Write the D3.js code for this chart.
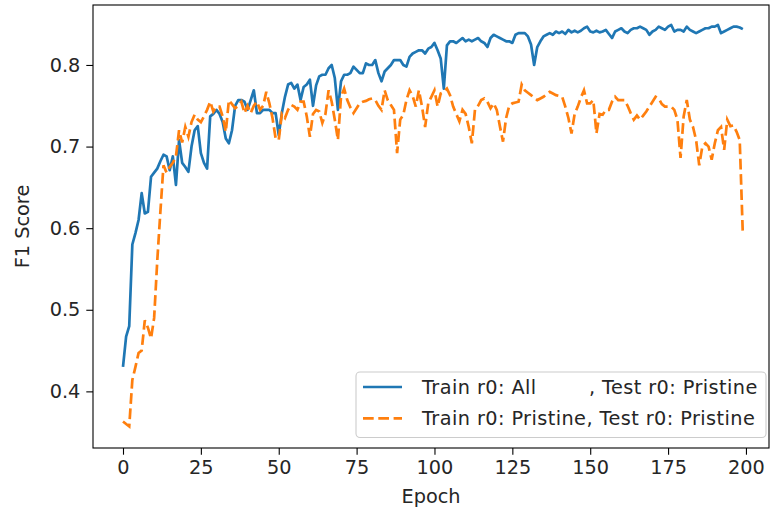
<!DOCTYPE html>
<html>
<head>
<meta charset="utf-8">
<script src="https://cdn.jsdelivr.net/npm/d3@7"></script>
<style>
  body { margin: 0; background: #fff; }
  svg { display: block; font-family: "DejaVu Sans", sans-serif; }
  .legend-label { white-space: pre; letter-spacing: 0.42px; }
</style>
</head>
<body>
<svg id="chart" width="772" height="515"></svg>
<script>
// F1 per epoch
const epochs = d3.range(200);

const trainAll = [
  0.43, 0.467, 0.48, 0.58, 0.594, 0.61, 0.643, 0.618, 0.62, 0.663,
  0.668, 0.673, 0.682, 0.69, 0.688, 0.671, 0.688, 0.653, 0.708, 0.68,
  0.675, 0.669, 0.70, 0.72, 0.725, 0.692, 0.68, 0.673, 0.737, 0.74,
  0.745, 0.74, 0.73, 0.71, 0.704, 0.72, 0.75, 0.757, 0.757, 0.755,
  0.745, 0.757, 0.769, 0.741, 0.741, 0.745, 0.745, 0.745, 0.741, 0.741,
  0.714, 0.741, 0.761, 0.776, 0.778, 0.771, 0.776, 0.757, 0.773, 0.776,
  0.782, 0.75, 0.775, 0.786, 0.788, 0.788, 0.796, 0.80, 0.784, 0.745,
  0.78, 0.788, 0.788, 0.79, 0.798, 0.794, 0.79, 0.79, 0.802, 0.80,
  0.80, 0.806, 0.79, 0.78, 0.792, 0.796, 0.80, 0.806, 0.806, 0.806,
  0.80, 0.798, 0.81, 0.814, 0.816, 0.818, 0.818, 0.814, 0.82, 0.822,
  0.827, 0.818, 0.808, 0.771, 0.824, 0.829, 0.829, 0.827, 0.83, 0.833,
  0.829, 0.831, 0.829, 0.831, 0.833, 0.829, 0.827, 0.822, 0.833, 0.837,
  0.835, 0.833, 0.831, 0.829, 0.829, 0.827, 0.837, 0.839, 0.839, 0.839,
  0.835, 0.825, 0.80, 0.822, 0.829, 0.835, 0.837, 0.839, 0.837, 0.841,
  0.839, 0.841, 0.838, 0.843, 0.84, 0.842, 0.84, 0.842, 0.845, 0.847,
  0.841, 0.84, 0.842, 0.84, 0.841, 0.843, 0.838, 0.833, 0.841, 0.843,
  0.845, 0.841, 0.839, 0.843, 0.845, 0.845, 0.847, 0.845, 0.843, 0.837,
  0.841, 0.843, 0.847, 0.845, 0.843, 0.847, 0.849, 0.841, 0.843, 0.843,
  0.841, 0.847, 0.843, 0.841, 0.839, 0.841, 0.843, 0.845, 0.845, 0.847,
  0.847, 0.849, 0.839, 0.841, 0.843, 0.845, 0.847, 0.847, 0.846, 0.844
];

const trainPristine = [
  0.363, 0.36, 0.357, 0.414, 0.43, 0.447, 0.45, 0.487, 0.478, 0.465,
  0.49, 0.56, 0.62, 0.677, 0.668, 0.675, 0.68, 0.688, 0.72, 0.705,
  0.724, 0.712, 0.73, 0.739, 0.733, 0.73, 0.737, 0.745, 0.755, 0.743,
  0.749, 0.749, 0.737, 0.718, 0.757, 0.752, 0.747, 0.75, 0.755, 0.741,
  0.75, 0.741, 0.75, 0.755, 0.745, 0.75, 0.767, 0.753, 0.735, 0.71,
  0.708, 0.74, 0.735, 0.745, 0.751, 0.749, 0.745, 0.755, 0.755, 0.737,
  0.712, 0.74, 0.745, 0.743, 0.729, 0.74, 0.769, 0.755, 0.733, 0.708,
  0.761, 0.771, 0.757, 0.748, 0.741, 0.747, 0.753, 0.755, 0.756, 0.758,
  0.759, 0.757, 0.75, 0.745, 0.769, 0.757, 0.751, 0.745, 0.692, 0.733,
  0.739, 0.757, 0.769, 0.762, 0.749, 0.769, 0.749, 0.724, 0.753, 0.761,
  0.769, 0.749, 0.765, 0.767, 0.771, 0.763, 0.749, 0.74, 0.731, 0.745,
  0.74, 0.724, 0.704, 0.745, 0.75, 0.757, 0.759, 0.755, 0.747, 0.753,
  0.745, 0.725, 0.706, 0.735, 0.75, 0.753, 0.754, 0.755, 0.776, 0.769,
  0.766, 0.763, 0.76, 0.757, 0.759, 0.761, 0.764, 0.767, 0.765, 0.763,
  0.762, 0.761, 0.749, 0.735, 0.716, 0.74, 0.749, 0.76, 0.769, 0.753,
  0.753, 0.757, 0.716, 0.74, 0.739, 0.745, 0.745, 0.755, 0.761, 0.757,
  0.757, 0.757, 0.75, 0.741, 0.733, 0.738, 0.733, 0.738, 0.743, 0.749,
  0.755, 0.761, 0.759, 0.752, 0.749, 0.749, 0.749, 0.745, 0.733, 0.686,
  0.737, 0.757, 0.733, 0.724, 0.708, 0.677, 0.70, 0.704, 0.70, 0.684,
  0.704, 0.72, 0.724, 0.696, 0.733, 0.725, 0.726, 0.718, 0.708, 0.592
];

const xTicks = [0, 25, 50, 75, 100, 125, 150, 175, 200];
const yTicks = [0.4, 0.5, 0.6, 0.7, 0.8];
const seriesNames = ["Train r0: All        , Test r0: Pristine",
                     "Train r0: Pristine, Test r0: Pristine"];

var box = { left: 93, right: 769, top: 5, bottom: 448 };
var fs = 19.3;

var svg = d3.select("#chart");

var x = d3.scaleLinear().domain([-9.63, 207.4]).range([box.left, box.right]);
var y = d3.scaleLinear().domain([0.3306, 0.8735]).range([box.bottom, box.top]);

// axes
var xAxis = svg.append("g")
    .attr("transform", "translate(0," + box.bottom + ")")
    .call(d3.axisBottom(x).tickValues(xTicks).tickSize(6.7).tickPadding(6).tickSizeOuter(0));
var yAxis = svg.append("g")
    .attr("transform", "translate(" + box.left + ",0)")
    .call(d3.axisLeft(y).tickValues(yTicks).tickFormat(d3.format(".1f")).tickSize(6.7).tickPadding(6).tickSizeOuter(0));

[xAxis, yAxis].forEach(function(g) {
  g.select(".domain").remove();
  g.selectAll(".tick line").attr("stroke", "#000").attr("stroke-width", 1.1);
  g.selectAll(".tick text").attr("fill", "#262626").style("font-size", fs + "px").style("font-family", "DejaVu Sans");
});

// lines
var line = function(vals) {
  return d3.line()
    .x(function(d) { return x(d); })
    .y(function(d) { return y(vals[d]); })(epochs);
};

svg.append("path")
  .attr("d", line(trainAll))
  .attr("fill", "none")
  .attr("stroke", "#1f77b4")
  .attr("stroke-width", 2.7)
  .attr("stroke-linejoin", "round");

svg.append("path")
  .attr("d", line(trainPristine))
  .attr("fill", "none")
  .attr("stroke", "#ff7f0e")
  .attr("stroke-width", 2.7)
  .attr("stroke-dasharray", "10.7,4.6");

// frame
svg.append("rect")
  .attr("x", box.left).attr("y", box.top)
  .attr("width", box.right - box.left).attr("height", box.bottom - box.top)
  .attr("fill", "none").attr("stroke", "#000").attr("stroke-width", 1.1);

// axis labels
svg.append("text")
  .attr("x", (box.left + box.right) / 2).attr("y", 503)
  .attr("text-anchor", "middle")
  .attr("fill", "#262626")
  .style("font-size", fs + "px")
  .text("Epoch");

svg.append("text")
  .attr("transform", "translate(29," + (box.top + box.bottom) / 2 + ") rotate(-90)")
  .attr("text-anchor", "middle")
  .attr("fill", "#262626")
  .style("font-size", fs + "px")
  .text("F1 Score");

// legend
var legend = svg.append("g");
legend.append("rect")
  .attr("x", 356).attr("y", 372).attr("width", 410).attr("height", 65.5)
  .attr("rx", 4)
  .attr("fill", "#fff").attr("fill-opacity", 0.8)
  .attr("stroke", "#cccccc").attr("stroke-width", 1.1);

var rows = [
  { name: seriesNames[0], color: "#1f77b4", dash: null, cy: 387 },
  { name: seriesNames[1], color: "#ff7f0e", dash: "10.7,4.6", cy: 418.3 }
];
rows.forEach(function(r) {
  legend.append("line")
    .attr("x1", 363).attr("x2", 402).attr("y1", r.cy).attr("y2", r.cy)
    .attr("stroke", r.color).attr("stroke-width", 2.7)
    .attr("stroke-dasharray", r.dash);
  legend.append("text")
    .attr("class", "legend-label")
    .attr("x", 422).attr("y", r.cy)
    .attr("dy", "0.36em")
    .attr("fill", "#262626")
    .style("font-size", fs + "px")
    .text(r.name);
});
</script>
</body>
</html>
